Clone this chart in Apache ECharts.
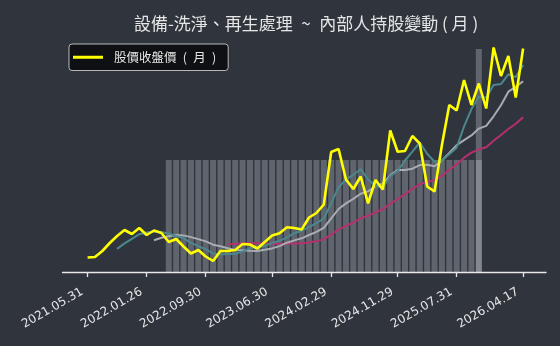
<!DOCTYPE html>
<html>
<head>
<meta charset="utf-8">
<script src="https://cdn.jsdelivr.net/npm/echarts@6/dist/echarts.min.js"></script>
<style>
  html, body { margin: 0; padding: 0; background: #2f343d; }
  #chart { width: 560px; height: 346px; }
</style>
</head>
<body>
<div id="chart"></div>
<script>
// month-end trading dates
const dates = [
  '2021.05.31', '2021.06.30', '2021.07.30', '2021.08.31', '2021.09.30', '2021.10.29', '2021.11.30', '2021.12.30',
  '2022.01.26', '2022.02.25', '2022.03.31', '2022.04.29', '2022.05.31', '2022.06.30', '2022.07.29', '2022.08.31',
  '2022.09.30', '2022.10.31', '2022.11.30', '2022.12.30',
  '2023.01.31', '2023.02.24', '2023.03.31', '2023.04.28', '2023.05.31', '2023.06.30', '2023.07.31', '2023.08.31',
  '2023.09.28', '2023.10.31', '2023.11.30', '2023.12.29',
  '2024.01.31', '2024.02.29', '2024.03.29', '2024.04.30', '2024.05.31', '2024.06.28', '2024.07.31', '2024.08.30',
  '2024.09.30', '2024.10.30', '2024.11.29', '2024.12.31',
  '2025.01.22', '2025.02.27', '2025.03.31', '2025.04.30', '2025.05.30', '2025.06.30', '2025.07.31', '2025.08.29',
  '2025.09.30', '2025.10.31', '2025.11.28', '2025.12.31',
  '2026.01.30', '2026.02.26', '2026.03.31', '2026.04.17'
];
// which dates get a tick label
const tickIdx = [0, 8, 16, 25, 33, 42, 50, 59];

// monthly close
const close = [
  14.5, 15, 21, 29, 36, 42, 38, 44, 37, 41.5,
  39, 30, 33, 25.5, 18.5, 22, 15.5, 11, 21, 21,
  22, 28, 27.5, 23.5, 30, 36.5, 38.7, 44.7, 44, 42.5,
  54.5, 59, 67.5, 120, 123, 92.5, 83, 95.5, 68.7, 92,
  82.5, 141.5, 120.3, 121, 136, 128.5, 85.5, 80.5, 127, 167,
  161.5, 192, 167, 188.5, 163.5, 224.5, 196, 216, 174.5, 223.5
];
// moving averages as drawn
const ma5 = [null, null, null, null,
  23.1, 28.6, 33.2, 37.8, 39.4, 40.5, 39.9, 38.3, 36.1, 33.8,
  29.2, 25.8, 22.9, 18.5, 17.6, 18.1, 18.1, 20.6, 23.9, 24.4,
  26.2, 29.1, 31.2, 34.7, 38.8, 41.3, 44.9, 48.9, 53.5, 68.7,
  84.8, 92.4, 97.2, 102.8, 92.5, 86.3, 84.3, 96.0, 101.0, 111.5,
  120.3, 129.5, 118.3, 110.3, 111.5, 117.7, 124.3, 145.6, 162.9, 175.2,
  174.5, 187.1, 187.9, 197.7, 194.9, 206.9
];
const ma10 = [null, null, null, null, null, null, null, null, null,
  31.8, 34.3, 35.8, 37.0, 36.6, 34.9, 32.9, 30.6, 27.3, 25.7,
  23.7, 22.0, 21.8, 21.2, 21.0, 22.2, 23.6, 25.9, 29.3, 31.6,
  33.7, 37.0, 40.1, 44.1, 53.7, 63.0, 68.6, 73.1, 78.2, 80.6,
  85.6, 88.4, 96.6, 101.9, 102.0, 103.3, 106.9, 107.2, 105.7, 111.5,
  119.0, 126.9, 131.9, 136.6, 143.4, 146.1, 155.7, 166.8, 180.3, 185.1,
  190.7
];
const ma20 = [null, null, null, null, null, null, null, null, null, null,
  null, null, null, null, null, null, null, null, null,
  27.7, 28.1, 28.8, 29.1, 28.8, 28.5, 28.2, 28.3, 28.3, 28.6,
  28.7, 29.5, 30.9, 32.6, 37.4, 42.6, 46.1, 49.5, 53.7, 56.1,
  59.7, 62.7, 68.4, 73.0, 77.9, 83.2, 87.8, 90.1, 91.9, 96.1,
  102.3, 107.6, 114.3, 119.3, 122.7, 124.7, 131.3, 137.0, 143.0, 148.3,
  154.8
];
// insider holding (%)
const holding = [null, null, null, null, null, null, null, null, null, null, null,
  48.3, 48.3, 48.3, 48.3, 48.3, 48.3, 48.3, 48.3, 48.3,
  48.3, 48.3, 48.3, 48.3, 48.3, 48.3, 48.3, 48.3, 48.3, 48.3,
  48.3, 48.3, 48.3, 48.3, 48.3, 48.3, 48.3, 48.3, 48.3, 48.3,
  48.3, 48.3, 48.3, 48.3, 48.3, 48.3, 48.3, 48.3, 48.3, 48.3,
  48.3, 48.3, 48.3, 48.3,
  null, null, null, null, null, null
];
// second record in the same month
const holdingExtra = { idx: 53, value: 96.1 };

const titleText = '設備-洗淨、再生處理\u2002~\u2002內部人持股變動 ( 月 )';
const legendName = '股價收盤價\u2002(\u2002月\u2002)';

function pairs(arr) {
  let out = [];
  arr.forEach((v, i) => { if (v !== null) out.push([i, v]); });
  return out;
}

const chart = echarts.init(document.getElementById('chart'));
const barColor = 'rgba(228, 231, 236, 0.27)';

const option = {
  backgroundColor: '#2f343d',
  animation: false,
  title: {
    text: titleText,
    left: 301,
    top: 10,
    textAlign: 'center',
    textStyle: {
      color: '#e6e6e6',
      fontSize: 17,
      fontWeight: 'normal',
      fontFamily: 'Noto Sans CJK TC'
    }
  },
  legend: {
    data: [legendName],
    left: 69,
    top: 44,
    icon: 'rect',
    itemWidth: 30,
    itemHeight: 3,
    padding: [7, 12, 7, 4],
    backgroundColor: '#0e1013',
    borderColor: '#b8b8b8',
    borderWidth: 1,
    borderRadius: 3,
    textStyle: {
      color: '#e6e6e6',
      fontSize: 12.5,
      fontFamily: 'Noto Sans CJK TC',
      padding: [0, 0, 0, 6]
    }
  },
  grid: { left: 62.5, right: 14, top: 40, bottom: 74 },
  xAxis: {
    type: 'value',
    min: -3.4,
    max: 62.1,
    splitLine: { show: false },
    axisLine: { show: true, lineStyle: { color: '#e8e8e8', width: 1.3 } },
    axisTick: {
      show: true,
      customValues: tickIdx,
      length: 5,
      lineStyle: { color: '#e8e8e8', width: 1.3 }
    },
    axisLabel: {
      customValues: tickIdx,
      rotate: 30,
      margin: 16,
      padding: [0, 6, 0, 0],
      color: '#e6e6e6',
      fontSize: 12,
      fontFamily: 'DejaVu Sans',
      formatter: v => dates[v]
    }
  },
  yAxis: [
    { type: 'value', min: 0, max: 232, show: false, splitLine: { show: false } },
    { type: 'value', min: 0, max: 100, show: false, splitLine: { show: false } }
  ],
  series: [
    {
      name: '內部人持股',
      type: 'bar',
      yAxisIndex: 1,
      barWidth: 6,
      barGap: '-100%',
      itemStyle: { color: barColor },
      data: pairs(holding),
      z: 1
    },
    {
      name: '內部人持股2',
      type: 'bar',
      yAxisIndex: 1,
      barWidth: 6,
      barGap: '-100%',
      itemStyle: { color: barColor },
      data: [[holdingExtra.idx, holdingExtra.value]],
      z: 1
    },
    {
      name: 'MA20',
      type: 'line',
      symbol: 'none',
      data: pairs(ma20),
      lineStyle: { color: '#b5306f', width: 2 },
      z: 3
    },
    {
      name: 'MA10',
      type: 'line',
      symbol: 'none',
      data: pairs(ma10),
      lineStyle: { color: '#a9adb2', width: 2 },
      z: 4
    },
    {
      name: 'MA5',
      type: 'line',
      symbol: 'none',
      data: pairs(ma5),
      lineStyle: { color: '#4a888e', width: 2 },
      z: 5
    },
    {
      name: legendName,
      type: 'line',
      symbol: 'none',
      data: pairs(close),
      itemStyle: { color: '#ffff00' },
      lineStyle: { color: '#ffff00', width: 2.6 },
      z: 6
    }
  ]
};

chart.setOption(option);
</script>
</body>
</html>
